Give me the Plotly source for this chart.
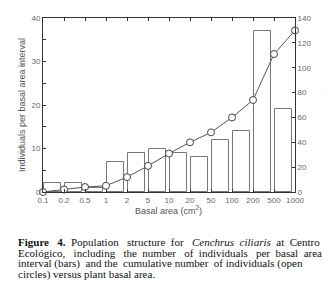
import plotly.graph_objects as go

# Data
tick_labels = ["0.1", "0.2", "0.5", "1", "2", "5", "10", "20", "50", "100", "200", "500", "1000"]
bar_counts = [2, 2, 1, 7, 9, 10, 9, 8, 12, 14, 37, 19]          # individuals per interval
cumulative = [0, 2, 4, 5, 12, 21, 31, 40, 48, 60, 74, 111, 130]  # cumulative individuals

W, H = 330, 288
L, R, T, B = 35, 43, 6, 104
plot_h = H - T - B

def py(p):
    return (H - B - p) / plot_h

def px(p):
    return (p - L) / (W - L - R)

tick_pos = list(range(len(tick_labels)))
bar_pos = [i + 0.44 for i in range(len(bar_counts))]

fig = go.Figure()
fig.add_trace(go.Bar(
    x=bar_pos, y=bar_counts, width=0.82,
    marker=dict(color="white", line=dict(color="#777", width=1)),
    yaxis="y", showlegend=False,
))
fig.add_trace(go.Scatter(
    x=tick_pos, y=cumulative, mode="lines+markers",
    line=dict(color="#555", width=1),
    marker=dict(symbol="circle", size=7, color="white", line=dict(color="#444", width=1)),
    yaxis="y2", showlegend=False, cliponaxis=False,
))

tickfont = dict(family="Liberation Sans, Arial", size=8, color="#666")
fig.update_layout(
    width=W, height=H,
    margin=dict(l=L, r=R, t=T, b=B),
    paper_bgcolor="white", plot_bgcolor="white",
    xaxis=dict(
        range=[0, 12], tickmode="array", tickvals=tick_pos, ticktext=tick_labels,
        ticks="inside", ticklen=3, tickcolor="#333", showline=True, linecolor="#333",
        linewidth=1, mirror="ticks", showgrid=False, zeroline=False, tickfont=tickfont,
    ),
    yaxis=dict(
        range=[0, 40], tickmode="linear", dtick=10, ticks="inside", ticklen=3,
        tickcolor="#333", showline=True, linecolor="#333", linewidth=1,
        showgrid=False, zeroline=False, tickfont=tickfont,
        minor=dict(dtick=5, ticks="inside", ticklen=3, tickcolor="#333", showgrid=False),
    ),
    yaxis2=dict(
        range=[0, 140], tickmode="linear", dtick=20, ticks="inside", ticklen=3,
        tickcolor="#333", showline=True, linecolor="#333", linewidth=1,
        overlaying="y", side="right", showgrid=False, zeroline=False, tickfont=tickfont,
    ),
    bargap=0,
)

titlefont = dict(family="Liberation Sans, Arial", size=9, color="#555")
fig.add_annotation(text="Individuals per basal area interval", xref="paper", yref="paper",
                   x=px(14), y=py(95), textangle=-90, showarrow=False, font=titlefont,
                   xanchor="center", yanchor="middle")
fig.add_annotation(text="Cumulative individuals", xref="paper", yref="paper",
                   x=px(318), y=py(95), textangle=-90, showarrow=False, font=titlefont,
                   xanchor="center", yanchor="middle")
fig.add_annotation(text="Basal area (cm<sup>2</sup>)", xref="paper", yref="paper",
                   x=px(160), y=py(202), showarrow=False, font=titlefont,
                   xanchor="center", yanchor="middle")

NB = "\u00a0"
def justify(words, extras):
    out = words[0]
    for w, e in zip(words[1:], extras):
        out += " " + NB * e + w
    return out

capfont = dict(family="Liberation Serif, Times New Roman", size=11, color="#111")
line1 = justify(["<b>Figure", "4.</b>", "Population", "structure", "for", "<i>Cenchrus",
                 "ciliaris</i>", "at", "Centro"], [2, 1, 2, 1, 2, 1, 1, 1])
line2 = justify(["Ecológico,", "including", "the", "number", "of", "individuals", "per",
                 "basal", "area"], [2, 2, 1, 2, 1, 2, 1, 1])
line3 = justify(["interval", "(bars)", "and", "the", "cumulative", "number", "of",
                 "individuals", "(open"], [0, 1, 0, 1, 0, 1, 0, 0])
line4 = "circles) versus plant basal area."
caption = [line1, line2, line3, line4]
centers = [235.5, 246.5, 257.5, 268.5]
for line, c in zip(caption, centers):
    fig.add_annotation(text=line, xref="paper", yref="paper", x=px(8), y=py(c),
                       xanchor="left", yanchor="middle", showarrow=False, font=capfont)

fig.write_html("out.html")
